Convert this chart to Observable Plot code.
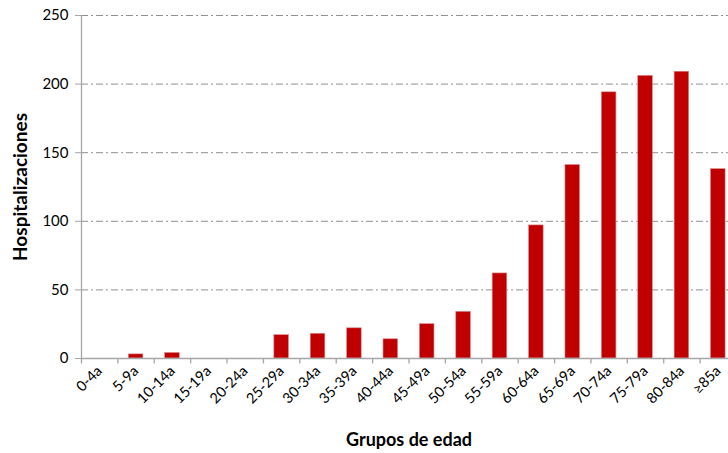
<!DOCTYPE html>
<html>
<head>
<meta charset="utf-8">
<script src="https://cdn.jsdelivr.net/npm/d3@7"></script>
<script src="https://cdn.jsdelivr.net/npm/@observablehq/plot@0.6"></script>
<style>
  html, body { margin: 0; padding: 0; background: #fff; overflow: hidden; }
  #chart { width: 728px; height: 453px; overflow: hidden; }
  #chart svg { max-width: none !important; display: block; }
</style>
</head>
<body>
<div id="chart"></div>
<script>
const categories = ["0-4a","5-9a","10-14a","15-19a","20-24a","25-29a","30-34a","35-39a","40-44a","45-49a","50-54a","55-59a","60-64a","65-69a","70-74a","75-79a","80-84a","≥85a"];
const values = [0, 3, 4, 0, 0, 17, 18, 22, 14, 25, 34, 62, 97, 141, 194, 206, 209, 138];
const yTicks = [0, 50, 100, 150, 200, 250];
const yTitle = "Hospitalizaciones";
const xTitle = "Grupos de edad";

const data = categories.map((c, i) => ({cat: c, value: values[i]}));

const W = 736, H = 453, ML = 81, MR = 0, MT = 15, MB = 95;
const step = (W - ML - MR) / categories.length;
const font = "Lato, 'Open Sans', sans-serif";

const chart = Plot.plot({
  width: W,
  height: H,
  marginLeft: ML,
  marginRight: MR,
  marginTop: MT,
  marginBottom: MB,
  style: {fontFamily: font, fontSize: "15px", color: "#000", background: "#fff", maxWidth: "none"},
  x: {domain: categories, paddingInner: 0.6, paddingOuter: 0.3, round: false, label: null},
  y: {domain: [0, 250], ticks: yTicks, label: null},
  marks: [
    Plot.ruleY(yTicks.filter(d => d > 0), {stroke: "#8f8f8f", strokeWidth: 1, strokeDasharray: "7,3,2,3"}),
    Plot.barY(data, {x: "cat", y: "value", fill: "#C00000", stroke: "#d9878a", strokeWidth: 0.6}),
    Plot.ruleX(categories, {x: d => d, y1: 0, y2: -4, dx: -step / 2, stroke: "#a6a6a6", strokeWidth: 1.3}),
    Plot.ruleY([0], {stroke: "#a6a6a6", strokeWidth: 1.3}),
    Plot.ruleX([categories[0]], {x: d => d, y1: 0, y2: 250, dx: -step / 2, stroke: "#a6a6a6", strokeWidth: 1.3}),
    Plot.axisY({ticks: yTicks, tickSize: 6, tickPadding: 7, stroke: "#a6a6a6", fontSize: 15, label: null}),
    Plot.axisX({tickSize: 0, tickRotate: -45, tickPadding: 10, fontSize: 14.5, label: null}),
    Plot.text([yTitle], {frameAnchor: "left", dx: -61, rotate: -90, textAnchor: "middle", lineAnchor: "middle", fontWeight: "bold", fontSize: 19, fill: "#000"}),
    Plot.text([xTitle], {frameAnchor: "bottom", dy: 82, lineAnchor: "middle", fontWeight: "bold", fontSize: 18, fill: "#000"})
  ]
});
document.getElementById("chart").appendChild(chart);
</script>
</body>
</html>
